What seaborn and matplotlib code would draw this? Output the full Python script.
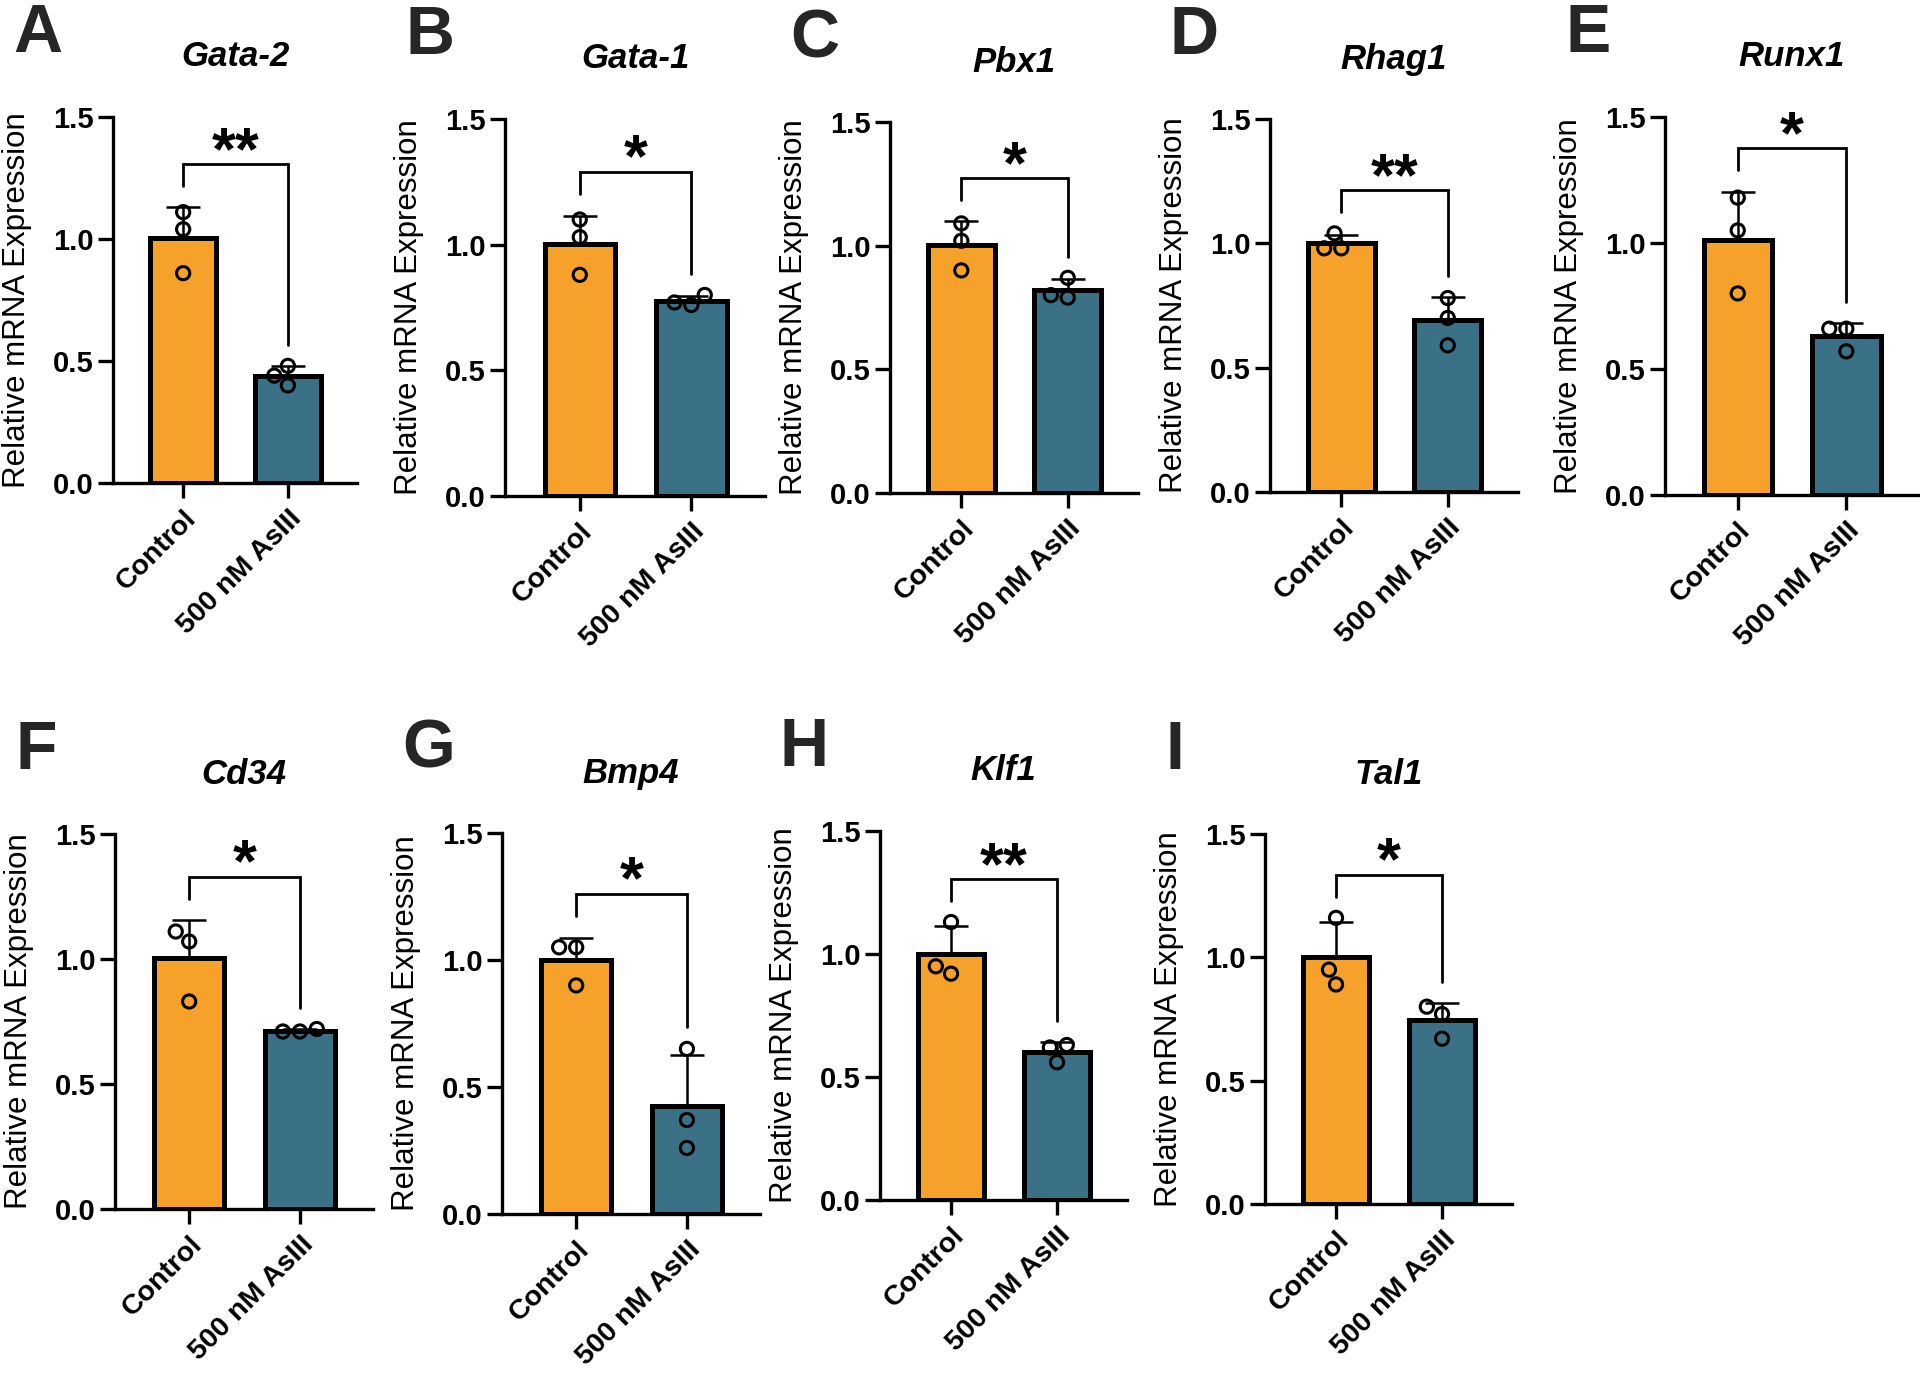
import matplotlib
matplotlib.use('Agg')
import matplotlib.pyplot as plt
import numpy as np
import pandas as pd
import seaborn as sns

sns.set_style('ticks', rc={'axes.edgecolor': 'black', 'text.color': 'black',
                           'xtick.color': 'black', 'ytick.color': 'black',
                           'axes.labelcolor': 'black'})
plt.rcParams['font.family'] = ['Liberation Sans', 'DejaVu Sans']

# data (relative mRNA expression, n=3 per group)
genes = ['Gata-2', 'Gata-1', 'Pbx1', 'Rhag1', 'Runx1', 'Cd34', 'Bmp4', 'Klf1', 'Tal1']
panel_letters = ['A', 'B', 'C', 'D', 'E', 'F', 'G', 'H', 'I']
groups = ['Control', '500 nM AsIII']
control_vals = [[1.11, 1.04, 0.86], [1.10, 1.03, 0.88], [1.09, 1.02, 0.90],
                [1.04, 0.98, 0.98], [1.18, 1.05, 0.80], [1.11, 1.07, 0.83],
                [1.05, 1.05, 0.90], [1.13, 0.92, 0.95], [1.16, 0.95, 0.89]]
asiii_vals = [[0.48, 0.44, 0.40], [0.80, 0.77, 0.76], [0.87, 0.80, 0.79],
              [0.78, 0.70, 0.59], [0.66, 0.66, 0.57], [0.72, 0.71, 0.71],
              [0.65, 0.37, 0.26], [0.63, 0.62, 0.56], [0.80, 0.77, 0.67]]
signif = ['**', '*', '*', '**', '*', '*', '*', '**', '*']

bar_colors = ['#F5A12A', '#3A7187']

# panel boxes in pixels: y-axis x, x-axis end, y of 1.5, y of 0.0
FW, FH = 1920, 1377
layout = [(113, 357, 117, 483), (505, 765, 119, 496), (890, 1138, 122, 493),
          (1270, 1518, 119, 492), (1665, 1918, 117, 495),
          (115, 373, 834, 1209), (502, 760, 833, 1214), (880, 1127, 831, 1200),
          (1265, 1512, 834, 1204)]

fig = plt.figure(figsize=(FW / 100, FH / 100), dpi=100)

for i, gene in enumerate(genes):
    left, right, top, bottom = layout[i]
    W = right - left
    ax = fig.add_axes([left / FW, 1 - bottom / FH, W / FW, (bottom - top) / FH])

    df = pd.DataFrame({'group': np.repeat(groups, 3),
                       'value': control_vals[i] + asiii_vals[i]})

    sns.barplot(data=df, x='group', y='value', hue='group', order=groups, hue_order=groups,
                palette=bar_colors, saturation=1, errorbar=None, width=0.63,
                edgecolor='black', linewidth=3.6, legend=False, ax=ax, zorder=1)

    stats = df.groupby('group', sort=False)['value'].agg(['mean', 'std'])
    eb = ax.errorbar([0, 1], stats['mean'], yerr=[np.zeros(2), stats['std']], fmt='none',
                     ecolor='black', elinewidth=1.8, capsize=12, capthick=1.8, zorder=3)
    eb[1][0].set_visible(False)

    n0 = len(ax.collections)
    sns.swarmplot(data=df, x='group', y='value', order=groups, color='black', size=9.5,
                  ax=ax, zorder=4)
    for c in ax.collections[n0:]:
        c.set_facecolor('none')
        c.set_edgecolor('black')
        c.set_linewidth(2.2)

    # significance bracket
    ctrl_top = max(max(control_vals[i]), stats['mean'].iloc[0] + stats['std'].iloc[0])
    trt_top = max(max(asiii_vals[i]), stats['mean'].iloc[1] + stats['std'].iloc[1])
    left_leg = ctrl_top + 0.085
    right_leg = trt_top + 0.085
    br_top = max(left_leg, right_leg) + 0.09
    ax.plot([0, 0, 1, 1], [left_leg, br_top, br_top, right_leg], color='black', lw=2,
            clip_on=False, solid_joinstyle='miter')
    ax.text(0.5, br_top - 0.02, signif[i], ha='center', va='baseline', fontsize=44,
            fontweight='bold')

    ax.set_xlim(-0.67, 1.66)
    ax.set_ylim(0, 1.5)
    ax.set_yticks([0, 0.5, 1.0, 1.5])
    ax.set_yticklabels(['0.0', '0.5', '1.0', '1.5'], fontweight='bold')
    sns.despine(ax=ax)
    ax.spines['left'].set_bounds(0, 1.5)
    for s in ['left', 'bottom']:
        ax.spines[s].set_linewidth(2.4)
    ax.tick_params(axis='both', direction='out', length=11, width=2.4, labelsize=21, pad=3)
    ax.tick_params(axis='x', pad=5, labelsize=20.5)
    ax.set_xticks([0, 1])
    ax.set_xticklabels(groups, rotation=45, ha='right', va='top', rotation_mode='anchor',
                       fontweight='bold')
    ax.set_xlabel('')
    ax.set_ylabel('Relative mRNA Expression', fontsize=22.5)
    ax.yaxis.set_label_coords(-96 / W, 0.5)
    ax.yaxis.label.set_va('center')

    fig.text((left + right) / 2 / FW, 1 - (top - 60) / FH, gene, ha='center', va='center',
             fontsize=25, fontweight='bold', fontstyle='italic')
    fig.text((left - 100) / FW, 1 - (top - 83) / FH, panel_letters[i], ha='left',
             va='center', fontsize=49, fontweight='bold', color='#262626')

fig.savefig('out.png', dpi=100)
